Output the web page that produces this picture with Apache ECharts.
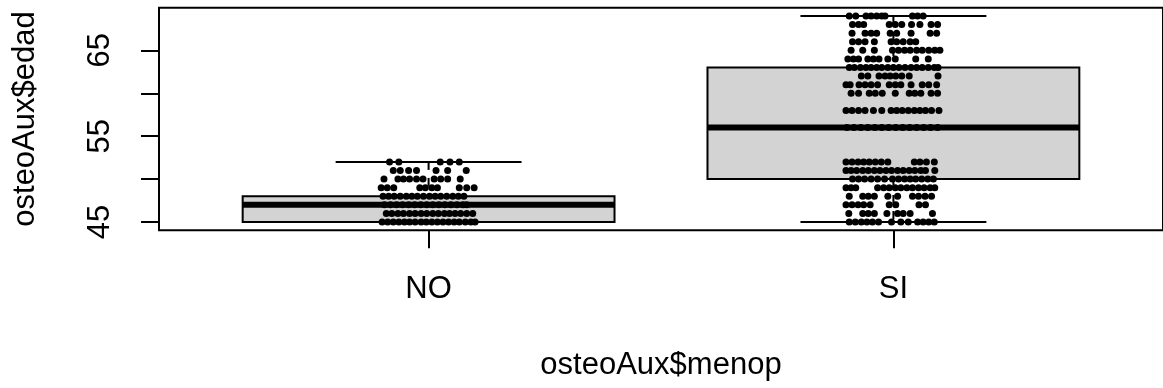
<!DOCTYPE html>
<html>
<head>
<meta charset="utf-8">
<script src="https://cdn.jsdelivr.net/npm/echarts@6/dist/echarts.min.js"></script>
<style>
html,body{margin:0;padding:0;background:#fff;}
#chart{width:1163px;height:388px;}
</style>
</head>
<body>
<div id="chart"></div>
<script>
// ---- data ----
const categories = ['NO', 'SI'];
const whiskerLow  = [45, 45];
const quartile1   = [45, 50];
const medians     = [47, 56];
const quartile3   = [48, 63];
const whiskerHigh = [52, 69];
const yTicks = [45, 50, 55, 60, 65];
const yTickLabels = [45, 55, 65];

// jittered observations: ages per group and horizontal jitter (category units) per age
const noAges = [52, 51, 50, 49, 48, 47, 46, 45];
const noJitter = [
  [-0.084,-0.064,0.025,0.046,0.066],
  [-0.076,-0.061,-0.043,-0.026,0.016,0.041,0.081],
  [-0.096,-0.066,-0.054,-0.041,-0.026,-0.012,0.012,0.026,0.041,0.068],
  [-0.102,-0.089,-0.075,-0.019,-0.007,0.007,0.019,0.066,0.082,0.098],
  [-0.098,-0.086,-0.074,-0.061,-0.048,-0.036,-0.024,-0.011,0.002,0.014,0.026,0.039,0.052,0.064,0.076],
  [-0.095,-0.082,-0.069,-0.056,-0.043,-0.030,-0.017,-0.004,0.009,0.022,0.035,0.048,0.061,0.074,0.082],
  [-0.091,-0.079,-0.066,-0.054,-0.041,-0.029,-0.016,-0.004,0.009,0.021,0.034,0.045,0.057,0.069,0.082,0.095],
  [-0.100,-0.088,-0.076,-0.064,-0.052,-0.041,-0.029,-0.016,-0.005,0.007,0.019,0.031,0.043,0.055,0.066,0.079,0.091,0.100]
];
const siAges = [69, 68, 67, 66, 65, 64, 63, 62, 61, 60, 58, 56, 52, 51, 50, 49, 48, 47, 46, 45];
const siJitter = [
  [-0.095,-0.081,-0.059,-0.048,-0.036,-0.025,-0.018,0.041,0.052,0.064],
  [-0.088,-0.075,-0.064,-0.009,0.004,0.018,0.039,0.057,0.081,0.095],
  [-0.089,-0.061,-0.048,-0.036,-0.007,0.007,0.038,0.079,0.093],
  [-0.088,-0.075,-0.061,-0.041,-0.005,0.007,0.021,0.036,0.048],
  [-0.091,-0.066,-0.041,-0.002,0.011,0.024,0.036,0.050,0.062,0.076,0.089,0.100],
  [-0.098,-0.086,-0.075,-0.055,-0.043,-0.031,-0.012,0.004,0.048,0.075],
  [-0.095,-0.084,-0.071,-0.059,-0.048,-0.036,-0.025,-0.012,0.000,0.012,0.025,0.038,0.050,0.062,0.075,0.088,0.096],
  [-0.069,-0.055,-0.031,-0.018,-0.007,0.005,0.018,0.034,0.096],
  [-0.102,-0.093,-0.074,-0.061,-0.048,-0.034,-0.009,0.004,0.016,0.038,0.062,0.076,0.093],
  [-0.091,-0.075,-0.052,-0.039,-0.024,0.004,0.034,0.046,0.059,0.081,0.095],
  [-0.102,-0.089,-0.075,-0.061,-0.043,-0.025,-0.005,0.007,0.019,0.032,0.045,0.057,0.069,0.082,0.098],
  [-0.100,-0.085,-0.070,-0.055,-0.040,-0.025,-0.010,0.005,0.020,0.035,0.050,0.065,0.080,0.095],
  [-0.102,-0.089,-0.076,-0.064,-0.052,-0.039,-0.026,-0.012,0.045,0.057,0.071,0.088],
  [-0.102,-0.091,-0.079,-0.066,-0.054,-0.041,-0.029,-0.016,-0.004,0.009,0.021,0.034,0.046,0.059,0.069,0.089],
  [-0.088,-0.075,-0.062,-0.048,-0.034,-0.019,-0.002,0.011,0.024,0.036,0.048,0.061,0.074,0.086],
  [-0.102,-0.091,-0.081,-0.034,-0.021,-0.009,0.004,0.016,0.029,0.041,0.054,0.066,0.079,0.089],
  [-0.095,-0.066,-0.054,-0.041,-0.012,0.009,0.041,0.054,0.068,0.082],
  [-0.102,-0.089,-0.076,-0.064,-0.050,-0.009,0.005,0.055,0.069],
  [-0.096,-0.066,-0.054,-0.041,-0.014,0.009,0.021,0.036,0.084],
  [-0.095,-0.082,-0.069,-0.057,-0.045,-0.032,-0.004,0.016,0.032,0.052,0.064,0.076,0.088]
];

// ---- build ----
const boxData = categories.map((c, i) => [i + 1, whiskerLow[i], quartile1[i], medians[i], quartile3[i], whiskerHigh[i]]);
const pointData = [];
[[noAges, noJitter], [siAges, siJitter]].forEach(([ages, jit], gi) => {
  ages.forEach((age, ri) => {
    jit[ri].forEach(off => pointData.push([gi + 1 + off, age]));
  });
});

const FONT = '"Liberation Sans", Arial, Helvetica, sans-serif';
const FS = 31;

const chart = echarts.init(document.getElementById('chart'), null, {renderer: 'canvas'});
chart.setOption({
  animation: false,
  backgroundColor: '#ffffff',
  grid: {
    left: 159, top: 7.8, width: 1011, height: 222.4,
    show: true, borderColor: '#000', borderWidth: 2, backgroundColor: 'transparent'
  },
  xAxis: {
    type: 'value', min: 0.42, max: 2.58,
    name: 'osteoAux$menop', nameLocation: 'middle', nameGap: 120,
    nameTextStyle: {fontFamily: FONT, fontSize: FS, color: '#000'},
    axisLine: {show: false},
    splitLine: {show: false},
    axisTick: {show: true, length: 18, customValues: [1, 2], lineStyle: {color: '#000', width: 2}},
    axisLabel: {
      show: true, margin: 44, customValues: [1, 2],
      fontFamily: FONT, fontSize: FS, color: '#000',
      formatter: v => categories[Math.round(v) - 1]
    }
  },
  yAxis: {
    type: 'value', min: 44.04, max: 69.96,
    name: 'osteoAux$edad', nameLocation: 'middle', nameGap: 118, nameRotate: 90,
    nameTextStyle: {fontFamily: FONT, fontSize: FS, color: '#000'},
    axisLine: {show: false},
    splitLine: {show: false},
    axisTick: {show: true, length: 18, customValues: yTicks, lineStyle: {color: '#000', width: 2}},
    axisLabel: {
      show: true, rotate: 90, margin: 43, customValues: yTickLabels,
      fontFamily: FONT, fontSize: FS, color: '#000'
    }
  },
  series: [
    {
      type: 'custom',
      z: 1,
      data: boxData,
      renderItem: function (params, api) {
        const x = api.value(0), lo = api.value(1), q1 = api.value(2), med = api.value(3), q3 = api.value(4), hi = api.value(5);
        const hb = 0.4, hc = 0.2;
        const tl = api.coord([x - hb, q3]);
        const br = api.coord([x + hb, q1]);
        const mL = api.coord([x - hb, med]);
        const mR = api.coord([x + hb, med]);
        const c = api.coord([x, hi]);
        const cq3 = api.coord([x, q3]);
        const cq1 = api.coord([x, q1]);
        const cl = api.coord([x, lo]);
        const capHL = api.coord([x - hc, hi]), capHR = api.coord([x + hc, hi]);
        const capLL = api.coord([x - hc, lo]), capLR = api.coord([x + hc, lo]);
        const ls = {stroke: '#000', lineWidth: 2};
        return {
          type: 'group',
          children: [
            {type: 'line', shape: {x1: c[0], y1: c[1], x2: cq3[0], y2: cq3[1]}, style: {stroke: '#000', lineWidth: 2, lineDash: [8, 8]}},
            {type: 'line', shape: {x1: cq1[0], y1: cq1[1], x2: cl[0], y2: cl[1]}, style: {stroke: '#000', lineWidth: 2, lineDash: [8, 8]}},
            {type: 'line', shape: {x1: capHL[0], y1: capHL[1], x2: capHR[0], y2: capHR[1]}, style: ls},
            {type: 'line', shape: {x1: capLL[0], y1: capLL[1], x2: capLR[0], y2: capLR[1]}, style: ls},
            {type: 'rect', shape: {x: tl[0], y: tl[1], width: br[0] - tl[0], height: br[1] - tl[1]}, style: {fill: '#D3D3D3', stroke: '#000', lineWidth: 2}},
            {type: 'line', shape: {x1: mL[0], y1: mL[1], x2: mR[0], y2: mR[1]}, style: {stroke: '#000', lineWidth: 6}}
          ]
        };
      }
    },
    {
      type: 'scatter',
      z: 3,
      symbol: 'circle',
      symbolSize: 7,
      itemStyle: {color: '#000', opacity: 1},
      data: pointData
    }
  ]
});
</script>
</body>
</html>
